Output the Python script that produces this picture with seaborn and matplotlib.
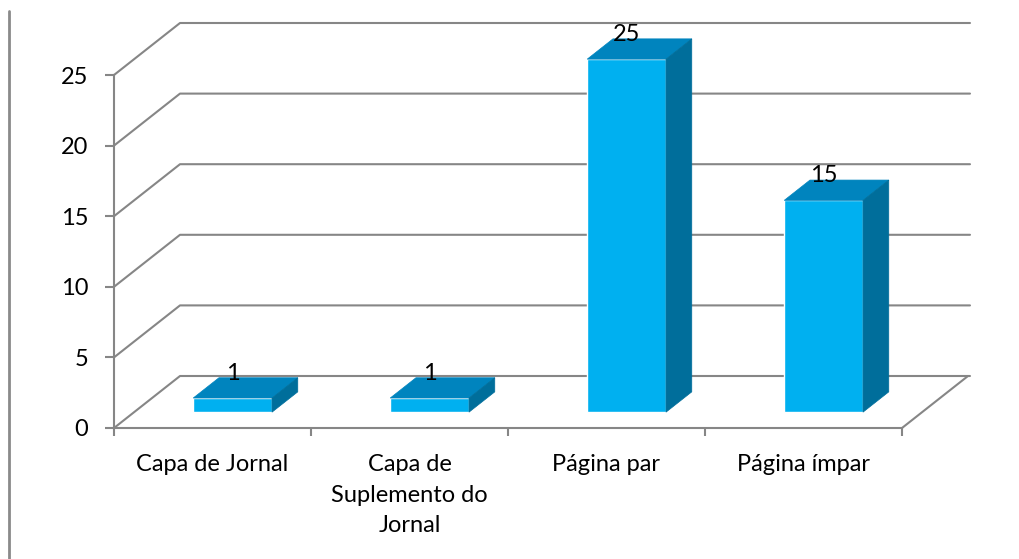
import matplotlib
matplotlib.use("Agg")
import matplotlib.pyplot as plt
import seaborn as sns
import pandas as pd
from matplotlib.patches import Polygon
from matplotlib.lines import Line2D
from matplotlib.transforms import Affine2D, IdentityTransform

# Chart data
categories = ["Capa de Jornal", "Capa de\nSuplemento do\nJornal", "Página par", "Página ímpar"]
counts = [1, 1, 25, 15]
y_ticks = [0, 5, 10, 15, 20, 25]

# Colours
FRONT = "#00B0F0"
TOP = "#0084BE"
SIDE = "#006E9B"
GRID = "#868686"

W, H, DPI = 1020, 559, 100
DEPTH = (66.0, 52.0)         # pixel vector from the front plane to the back wall
D0, D1 = 0.305, 0.695        # depth span of each bar (fraction of DEPTH)
FS = 17

sns.set_theme(style="white")
plt.rcParams["font.family"] = ["Lato", "DejaVu Sans"]

fig = plt.figure(figsize=(W / DPI, H / DPI), dpi=DPI)
fig.patch.set_facecolor("white")
ax = fig.add_axes([114 / W, 1 - 428 / H, 788 / W, 353 / H])
ax.set_facecolor("none")

df = pd.DataFrame({"categoria": categories, "n": counts})
sns.barplot(data=df, x="categoria", y="n", ax=ax, color=FRONT,
            saturation=1, width=0.4, zorder=5)
ax.set_xlim(-0.5, len(categories) - 0.5)
ax.set_ylim(0, max(y_ticks))


def shift(frac):
    return Affine2D().translate(frac * DEPTH[0], frac * DEPTH[1])


def proj(x, y, frac):
    px, py = ax.transData.transform((x, y))
    return (px + frac * DEPTH[0], py + frac * DEPTH[1])


ident = IdentityTransform()
x0, x1 = ax.get_xlim()

# back wall gridlines and the left side-wall diagonals
for t in y_ticks:
    a, b = proj(x0, t, 0), proj(x0, t, 1)
    c = proj(x1, t, 1)
    ax.add_line(Line2D([a[0], b[0], c[0] + 2], [a[1], b[1], c[1]], transform=ident,
                       color=GRID, lw=1.5, clip_on=False, zorder=1))
# floor right edge
a, b = proj(x1, 0, 0), proj(x1, 0, 1)
ax.add_line(Line2D([a[0], b[0]], [a[1], b[1]], transform=ident,
                   color=GRID, lw=1.5, clip_on=False, zorder=1))

# 3D bars: front face from seaborn, top and side faces added
pt_per_px = 72.0 / DPI
for p in list(ax.patches):
    p.set_transform(ax.transData + shift(D0))
    p.set_clip_on(False)
    bx, bw, bh = p.get_x(), p.get_width(), p.get_height()
    tl0, tr0 = proj(bx, bh, D0), proj(bx + bw, bh, D0)
    tl1, tr1 = proj(bx, bh, D1), proj(bx + bw, bh, D1)
    br0, br1 = proj(bx + bw, 0, D0), proj(bx + bw, 0, D1)
    ax.add_patch(Polygon([tl0, tr0, tr1, tl1], closed=True, transform=ident,
                         facecolor=TOP, edgecolor=TOP, lw=0.5, clip_on=False, zorder=6))
    ax.add_patch(Polygon([tr0, br0, br1, tr1], closed=True, transform=ident,
                         facecolor=SIDE, edgecolor=SIDE, lw=0.5, clip_on=False, zorder=6))
    ax.annotate(f"{bh:g}", xy=(bx + bw / 2, bh), xycoords="data",
                xytext=(D0 * DEPTH[0] * pt_per_px, (D1 * DEPTH[1] - 2) * pt_per_px),
                textcoords="offset points", ha="center", va="baseline",
                fontsize=FS, color="black", zorder=7, annotation_clip=False)

# axes styling
for s in ("top", "right"):
    ax.spines[s].set_visible(False)
for s in ("left", "bottom"):
    ax.spines[s].set_color(GRID)
    ax.spines[s].set_linewidth(1.5)
    ax.spines[s].set_zorder(2)

ax.set_yticks(y_ticks)
ax.set_yticklabels([str(t) for t in y_ticks])
ax.tick_params(axis="y", direction="out", length=6.5, width=1.5, color=GRID,
               pad=12, labelsize=FS, labelcolor="black", left=True)
ax.set_xticks(range(len(categories)))
ax.set_xticklabels(categories, linespacing=1.55)
ax.set_xticks([i - 0.5 for i in range(len(categories) + 1)], minor=True)
ax.tick_params(axis="x", which="major", length=0, pad=19, labelsize=FS,
               labelcolor="black")
ax.tick_params(axis="x", which="minor", direction="out", length=5.5, width=1.5,
               color=GRID, bottom=True)
ax.set_xlabel("")
ax.set_ylabel("")
ax.grid(False)

# frame line at the left edge
fig.add_artist(Line2D([9.5 / W, 9.5 / W], [1 - 11 / H, 0], transform=fig.transFigure,
                      color="#8a8a8a", lw=2.0))

fig.savefig("out.png", dpi=DPI, facecolor="white")
